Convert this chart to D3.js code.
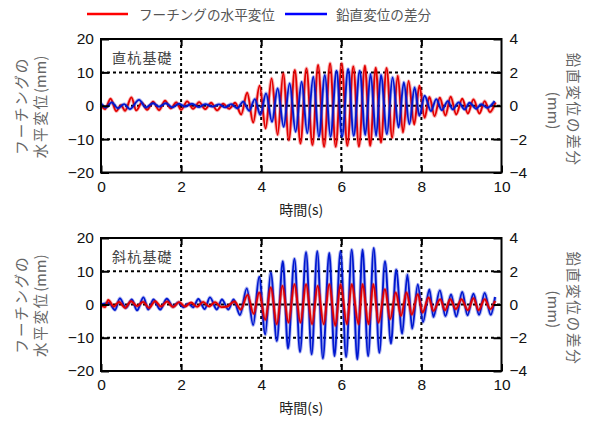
<!DOCTYPE html>
<html>
<head>
<meta charset="utf-8">
<script src="https://cdn.jsdelivr.net/npm/d3@7"></script>
<style>
  html, body { margin: 0; padding: 0; background: #fff; }
  svg { display: block; }
</style>
</head>
<body>
<svg id="chart" width="591" height="421"></svg>
<script>
// Time axis ticks and axis tick values
const timeTicks = [0, 2, 4, 6, 8, 10];
const horizTicks = [-20, -10, 0, 10, 20];
const vertTicks = [-4, -2, 0, 2, 4];

// Legend / series labels
const seriesNames = ["フーチングの水平変位", "鉛直変位の差分"];
const panelNames = ["直杭基礎", "斜杭基礎"];

// 直杭基礎: footing horizontal displacement (mm), [time s, value] at turning points
const straightHoriz = [
  [0,0.0],[0.1,-1.0],[0.24,2.1],[0.38,-1.6],[0.5,0.2],[0.6,-1.5],[0.76,2.5],[0.88,-1.4],
  [1.02,0.9],[1.15,-1.2],[1.3,1.2],[1.45,-1.3],[1.6,1.5],[1.74,-0.8],[1.88,1.0],[2.0,-1.2],
  [2.15,1.3],[2.3,-0.9],[2.45,1.1],[2.6,-1.0],[2.75,0.9],[2.9,-1.4],[3.05,0.6],[3.2,-0.9],
  [3.35,0.9],[3.5,-2.6],[3.65,3.9],[3.8,-5.0],[3.96,6.0],[4.11,-6.8],[4.26,8.2],[4.41,-8.7],
  [4.55,9.7],[4.69,-10.3],[4.84,10.7],[4.98,-11.3],[5.13,11.2],[5.28,-11.8],[5.42,12.2],[5.57,-12.3],
  [5.72,12.7],[5.86,-12.3],[6.01,12.7],[6.15,-12.0],[6.3,11.8],[6.44,-12.2],[6.59,12.0],[6.72,-12.0],
  [6.86,11.4],[6.99,-11.0],[7.13,11.3],[7.27,-9.6],[7.41,9.0],[7.54,-8.0],[7.68,7.4],[7.82,-5.6],
  [7.95,6.0],[8.08,-3.6],[8.2,2.6],[8.33,-3.1],[8.46,2.4],[8.6,-2.9],[8.73,2.7],[8.87,-2.6],
  [9.02,2.1],[9.16,-2.3],[9.3,1.9],[9.45,-2.3],[9.58,1.4],[9.71,-1.9],[9.85,1.0]
];

// 直杭基礎: difference of vertical displacement (mm)
const straightVert = [
  [0,0.15],[0.12,-0.1],[0.27,0.2],[0.42,-0.15],[0.58,0.1],[0.72,-0.2],[0.95,0.35],[1.12,-0.1],
  [1.3,0.15],[1.45,-0.05],[1.62,0.15],[1.78,-0.1],[1.95,0.12],[2.1,-0.05],[2.27,0.12],[2.45,-0.08],
  [2.6,0.1],[2.78,-0.05],[2.95,0.08],[3.1,-0.1],[3.25,0.1],[3.4,-0.15],[3.55,0.25],[3.7,-0.3],
  [3.84,0.4],[3.98,-0.55],[4.12,0.74],[4.27,-0.96],[4.41,1.04],[4.56,-1.26],[4.71,1.34],[4.86,-1.56],
  [5.01,1.44],[5.15,-1.65],[5.3,1.74],[5.44,-1.86],[5.59,1.84],[5.73,-1.86],[5.88,2.1],[6.02,-1.85],
  [6.17,2.2],[6.31,-1.8],[6.46,2.1],[6.6,-1.75],[6.73,1.9],[6.87,-1.8],[6.99,1.85],[7.14,-1.7],
  [7.28,1.7],[7.43,-1.3],[7.56,1.4],[7.7,-1.1],[7.83,1.1],[7.95,-0.6],[8.08,0.6],[8.24,-0.32],
  [8.37,0.4],[8.51,-0.26],[8.66,0.28],[8.78,-0.22],[8.93,0.2],[9.08,-0.22],[9.2,0.18],[9.37,-0.18],
  [9.49,0.1],[9.64,-0.12],[9.83,0.28]
];

// 斜杭基礎: footing horizontal displacement (mm)
const batterHoriz = [
  [0,-0.3],[0.1,-0.8],[0.18,1.35],[0.32,-0.6],[0.45,0.8],[0.6,-1.0],[0.75,1.0],[0.9,-0.5],
  [1.05,0.8],[1.2,-1.0],[1.35,1.0],[1.5,-0.6],[1.65,0.9],[1.8,-0.8],[1.95,0.7],[2.1,-0.6],
  [2.25,0.6],[2.4,-0.7],[2.55,0.8],[2.7,-0.6],[2.85,0.7],[3.0,-0.8],[3.15,-0.6],[3.33,0.9],
  [3.49,-1.5],[3.66,2.9],[3.81,-2.8],[3.95,3.6],[4.1,-4.6],[4.24,5.1],[4.39,-5.9],[4.53,5.6],
  [4.68,-5.4],[4.83,6.1],[4.98,-5.4],[5.12,6.1],[5.27,-5.9],[5.41,5.6],[5.56,-5.9],[5.7,6.1],
  [5.85,-6.4],[5.98,6.1],[6.14,-5.9],[6.26,6.1],[6.43,-5.9],[6.53,6.1],[6.68,-5.9],[6.8,6.1],
  [6.93,-5.4],[7.09,4.6],[7.22,-4.4],[7.36,3.6],[7.49,-3.4],[7.63,3.6],[7.76,-3.0],[7.91,3.1],
  [8.03,-2.4],[8.18,2.1],[8.3,-1.9],[8.47,1.6],[8.59,-1.7],[8.72,1.6],[8.86,-1.4],[9.0,1.6],
  [9.16,-1.7],[9.3,1.9],[9.43,-1.7],[9.58,1.6],[9.72,-1.4],[9.84,1.1]
];

// 斜杭基礎: difference of vertical displacement (mm)
const batterVert = [
  [0,0.0],[0.2,0.1],[0.35,-0.33],[0.47,0.37],[0.62,-0.2],[0.77,0.3],[0.9,-0.35],[1.06,0.43],
  [1.18,-0.3],[1.31,0.3],[1.48,-0.3],[1.64,0.35],[1.8,-0.13],[1.93,0.13],[2.05,-0.17],[2.18,0.05],
  [2.3,-0.17],[2.43,0.33],[2.59,-0.27],[2.72,0.43],[2.89,-0.3],[3.02,0.3],[3.18,-0.3],[3.31,0.3],
  [3.47,-0.63],[3.64,0.97],[3.8,-1.24],[3.95,1.67],[4.1,-1.8],[4.24,1.93],[4.39,-2.2],[4.54,2.6],
  [4.67,-2.65],[4.83,2.75],[4.97,-2.85],[5.12,3.15],[5.26,-3.0],[5.4,3.2],[5.54,-3.25],[5.7,3.1],
  [5.83,-3.1],[5.98,3.2],[6.12,-3.15],[6.26,3.3],[6.4,-3.3],[6.53,3.3],[6.67,-3.1],[6.81,3.4],
  [6.95,-2.9],[7.09,2.6],[7.24,-2.35],[7.37,2.1],[7.52,-1.75],[7.65,1.8],[7.77,-1.45],[7.91,1.2],
  [8.04,-1.05],[8.2,0.9],[8.3,-0.75],[8.46,0.85],[8.6,-0.7],[8.74,0.6],[8.87,-0.72],[9.02,0.75],
  [9.15,-0.65],[9.3,0.65],[9.44,-0.62],[9.58,0.7],[9.73,-0.62],[9.84,0.45]
];

const RED = "#e30000";
const BLUE = "#0018d0";
const CJK = "'Noto Sans CJK JP', 'Noto Sans', sans-serif";
const NUM = "'Liberation Sans', Arial, sans-serif";

const svg = d3.select("#chart");

// ---- legend ----
const legend = svg.append("g");
legend.append("line").attr("x1", 87).attr("x2", 128).attr("y1", 14).attr("y2", 14)
  .attr("stroke", "#ff0000").attr("stroke-width", 2.5);
legend.append("text").attr("x", 139).attr("y", 14).attr("dominant-baseline", "central")
  .attr("font-family", CJK).attr("font-size", 13.6).attr("fill", "#555")
  .text(seriesNames[0]);
legend.append("line").attr("x1", 285).attr("x2", 327).attr("y1", 14).attr("y2", 14)
  .attr("stroke", "#0000ff").attr("stroke-width", 2.5);
legend.append("text").attr("x", 336).attr("y", 14).attr("dominant-baseline", "central")
  .attr("font-family", CJK).attr("font-size", 13.6).attr("fill", "#555")
  .text(seriesNames[1]);

// rotated axis title: CJK part spaced out, unit part kept tight
function axisTitle(g, cx, cy, angle, cjk, unit) {
  const t = g.append("text").attr("transform", `translate(${cx},${cy}) rotate(${angle})`)
    .attr("text-anchor", "middle").attr("dominant-baseline", "central")
    .attr("font-family", CJK).attr("font-size", 14.5).attr("fill", "#666");
  if (cjk) t.append("tspan").attr("letter-spacing", 1.8).text(cjk);
  if (unit) t.append("tspan").attr("letter-spacing", 0.3).text(unit);
}

function drawPanel(top, bottom, title, horiz, vert, redOnTop) {
  const left = 101, right = 501.5;
  const x = d3.scaleLinear().domain([0, 10]).range([left, right]);
  const yL = d3.scaleLinear().domain([-20, 20]).range([bottom, top]);
  const yR = d3.scaleLinear().domain([-4, 4]).range([bottom, top]);
  const g = svg.append("g");

  // dotted grid
  const grid = g.append("g").attr("stroke", "#000").attr("stroke-width", 2)
    .attr("stroke-dasharray", "3,3");
  grid.selectAll("line.v").data(timeTicks.filter(t => t > 0 && t < 10)).join("line")
    .attr("x1", d => x(d)).attr("x2", d => x(d)).attr("y1", top).attr("y2", bottom);
  grid.selectAll("line.h").data(horizTicks.filter(t => t > -20 && t < 20)).join("line")
    .attr("x1", left).attr("x2", right).attr("y1", d => yL(d)).attr("y2", d => yL(d));

  // data lines
  const line = (ys) => d3.line().x(d => x(d[0])).y(d => ys(d[1])).curve(d3.curveMonotoneX);
  const draw = (data, ys, color) => {
    g.append("path").datum(data).attr("d", line(ys)).attr("fill", "none")
      .attr("stroke", color).attr("stroke-opacity", 0.3).attr("stroke-width", 3.6);
    g.append("path").datum(data).attr("d", line(ys)).attr("fill", "none")
      .attr("stroke", color).attr("stroke-width", 1.9).attr("stroke-linejoin", "round");
  };
  if (redOnTop) { draw(vert, yR, BLUE); draw(horiz, yL, RED); }
  else { draw(horiz, yL, RED); draw(vert, yR, BLUE); }

  // axes with inward ticks
  const styleAxis = sel => {
    sel.select(".domain").remove();
    sel.selectAll(".tick line").attr("stroke", "#000").attr("stroke-width", 2);
    sel.selectAll(".tick text").attr("font-family", NUM).attr("font-size", 15.5).attr("fill", "#111");
  };
  g.append("g").attr("transform", `translate(0,${bottom})`)
    .call(d3.axisBottom(x).tickValues(timeTicks).tickSizeInner(-7).tickSizeOuter(0).tickPadding(8))
    .call(styleAxis);
  g.append("g").attr("transform", `translate(0,${top})`)
    .call(d3.axisTop(x).tickValues(timeTicks.filter(t => t > 0 && t < 10)).tickSizeInner(-7).tickSizeOuter(0).tickFormat(""))
    .call(styleAxis);
  g.append("g").attr("transform", `translate(${left},0)`)
    .call(d3.axisLeft(yL).tickValues(horizTicks).tickSizeInner(-8).tickSizeOuter(0).tickPadding(7))
    .call(styleAxis);
  g.append("g").attr("transform", `translate(${right},0)`)
    .call(d3.axisRight(yR).tickValues(vertTicks).tickSizeInner(-8).tickSizeOuter(0).tickPadding(8))
    .call(styleAxis);

  // frame
  g.append("rect").attr("x", left).attr("y", top).attr("width", right - left).attr("height", bottom - top)
    .attr("fill", "none").attr("stroke", "#000").attr("stroke-width", 2);

  // panel title
  g.append("text").attr("x", 112).attr("y", top + 18).attr("dominant-baseline", "central")
    .attr("font-family", CJK).attr("font-size", 14).attr("letter-spacing", 1.2).attr("fill", "#444")
    .text(title);

  // x-axis title
  g.append("text").attr("x", (left + right) / 2).attr("y", bottom + 36).attr("dominant-baseline", "central")
    .attr("text-anchor", "middle").attr("font-family", CJK).attr("font-size", 14).attr("fill", "#222")
    .text("時間(s)");

  const mid = (top + bottom) / 2;
  axisTitle(g, 20, mid, -90, "フーチングの", null);
  axisTitle(g, 39, mid + 1, -90, "水平変位", "(mm)");
  axisTitle(g, 575, mid + 4, 90, "鉛直変位の差分", null);
  axisTitle(g, 555, mid + 5, 90, null, "(mm)");
}

drawPanel(39, 172.5, panelNames[0], straightHoriz, straightVert, false);
drawPanel(238, 371, panelNames[1], batterHoriz, batterVert, true);
</script>
</body>
</html>
